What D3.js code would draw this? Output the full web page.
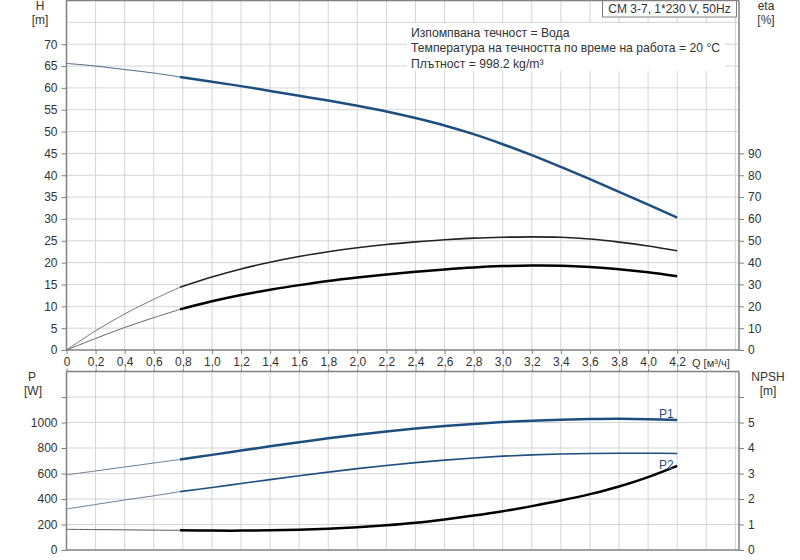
<!DOCTYPE html>
<html>
<head>
<meta charset="utf-8">
<script src="https://cdn.jsdelivr.net/npm/d3@7"></script>
<style>
  body { margin: 0; background: #fff; }
  text { font-family: "Liberation Sans", Arial, sans-serif; fill: #333; }
</style>
</head>
<body>
<div id="chart"></div>
<script>
// flow points (m3/h); 0.78 is where the operating range starts
const q = [0, 0.2, 0.4, 0.6, 0.78, 1.0, 1.2, 1.4, 1.6, 1.8, 2.0, 2.2, 2.4, 2.6, 2.8, 3.0, 3.2, 3.4, 3.6, 3.8, 4.0, 4.2];
const qStart = 0.78;

const head = [65.6, 65.0, 64.2, 63.4, 62.5, 61.4, 60.4, 59.3, 58.2, 57.1, 55.9, 54.6, 53.1, 51.4, 49.4, 47.1, 44.6, 41.9, 39.1, 36.2, 33.3, 30.3];
const etaPump = [0, 8.8, 16.5, 23.2, 28.7, 33.4, 37.1, 40.2, 42.8, 45.0, 46.8, 48.3, 49.5, 50.5, 51.2, 51.6, 51.8, 51.6, 50.8, 49.4, 47.6, 45.4];
const etaTotal = [0, 5.3, 10.3, 14.8, 18.6, 22.3, 25.2, 27.6, 29.7, 31.6, 33.2, 34.6, 35.8, 36.9, 37.8, 38.4, 38.7, 38.6, 38.0, 37.0, 35.6, 33.8];
const p1 = [589, 620, 651, 682, 710, 746, 780, 813, 845, 876, 904, 930, 953, 972, 989, 1003, 1014, 1022, 1027, 1029, 1026, 1019];
const p2 = [322, 357, 392, 425, 458, 490, 521, 552, 582, 611, 638, 663, 685, 705, 722, 736, 746, 753, 757, 759, 759, 757];
const npsh = [0.81, 0.80, 0.79, 0.78, 0.77, 0.76, 0.76, 0.77, 0.79, 0.83, 0.89, 0.97, 1.07, 1.20, 1.35, 1.52, 1.72, 1.94, 2.19, 2.49, 2.86, 3.30];

const qTicks = d3.range(0, 4.21, 0.2);
const hTicks = d3.range(0, 71, 5);
const etaTicks = d3.range(0, 91, 10);
const pTicks = [0, 200, 400, 600, 800, 1000, 1200];
const npshTicks = [0, 1, 2, 3, 4, 5, 6];

const title = "CM 3-7, 1*230 V, 50Hz";
const notes = ["Изпомпвана течност = Вода", "Температура на течността по време на работа = 20 °C", "Плътност = 998.2 kg/m³"];

const width = 800, height = 560;
const left = 66.5, right = 739;

const svg = d3.select("#chart").append("svg")
    .attr("width", width)
    .attr("height", height);

const x = d3.scaleLinear().domain([0, 4.625]).range([left, right]);
const yH = d3.scaleLinear().domain([0, 80]).range([350, 0.5]);
const yEta = d3.scaleLinear().domain([0, 160]).range([350, 0.5]);
const yP = d3.scaleLinear().domain([0, 1400]).range([550, 371.5]);
const yN = d3.scaleLinear().domain([0, 7]).range([550, 371.5]);

const gridColor = "#d4d4d4";
const axisColor = "#808080";
const blue = "#1d4e80";

function grid(g, y, yVals, top, bottom) {
    g.selectAll("line.v").data(d3.range(0.2, 4.61, 0.2)).join("line")
        .attr("x1", d => x(d)).attr("x2", d => x(d))
        .attr("y1", top).attr("y2", bottom)
        .attr("stroke", gridColor).attr("stroke-width", 1);
    g.selectAll("line.h").data(yVals).join("line")
        .attr("x1", left).attr("x2", right)
        .attr("y1", d => y(d)).attr("y2", d => y(d))
        .attr("stroke", gridColor).attr("stroke-width", 1);
}

// grids
grid(svg.append("g"), yH, d3.range(5, 80, 5), 0, 350);
grid(svg.append("g"), yP, d3.range(200, 1400, 200), 371.5, 550);

// note block with white background
svg.append("rect")
    .attr("x", 407).attr("y", 23).attr("width", 318).attr("height", 48)
    .attr("fill", "#fff");
svg.append("g").selectAll("text").data(notes).join("text")
    .attr("x", 411)
    .attr("y", (d, i) => 36.5 + i * 15.5)
    .attr("font-size", 12.2)
    .text(d => d);

// title box
svg.append("rect")
    .attr("x", 602.5).attr("y", 0.5).attr("width", 134).attr("height", 16.5)
    .attr("fill", "#fff").attr("stroke", "#808080");
svg.append("text")
    .attr("x", 669.5).attr("y", 13)
    .attr("text-anchor", "middle")
    .attr("font-size", 12)
    .text(title);

// frames
function frame(top, bottom) {
    const edges = [[left, top, right, top], [left, bottom, right, bottom],
                   [left, top, left, bottom], [right, top, right, bottom]];
    svg.append("g").selectAll("line").data(edges).join("line")
        .attr("x1", d => d[0]).attr("y1", d => d[1])
        .attr("x2", d => d[2]).attr("y2", d => d[3])
        .attr("stroke", axisColor).attr("stroke-width", 1.5);
}
frame(0.5, 350);
frame(371.5, 550);

function styleAxis(g) {
    g.select(".domain").remove();
    g.selectAll(".tick line").attr("stroke", axisColor);
    g.selectAll(".tick text").attr("fill", "#333").attr("font-size", 12)
        .attr("font-family", "Liberation Sans, Arial, sans-serif");
}

// axes
svg.append("g").attr("transform", `translate(${left},0)`)
    .call(d3.axisLeft(yH).tickValues(hTicks).tickSize(5).tickPadding(4))
    .call(styleAxis);
svg.append("g").attr("transform", `translate(${right},0)`)
    .call(d3.axisRight(yEta).tickValues(etaTicks).tickSize(5).tickPadding(4))
    .call(styleAxis);
svg.append("g").attr("transform", `translate(0,350)`)
    .call(d3.axisBottom(x).tickValues(qTicks).tickSize(4).tickPadding(3)
        .tickFormat(d => d === 0 ? "0" : d3.format(".1f")(d).replace(".", ",")))
    .call(styleAxis);
svg.append("g").attr("transform", `translate(0,371.5)`)
    .call(d3.axisTop(x).tickValues(qTicks).tickSize(3).tickFormat(""))
    .call(styleAxis);
svg.append("g").attr("transform", `translate(${left},0)`)
    .call(d3.axisLeft(yP).tickValues(pTicks).tickSize(5).tickPadding(4)
        .tickFormat(d => d > 1000 ? "" : d))
    .call(styleAxis);
svg.append("g").attr("transform", `translate(${right},0)`)
    .call(d3.axisRight(yN).tickValues(npshTicks).tickSize(5).tickPadding(4)
        .tickFormat(d => d > 5 ? "" : d))
    .call(styleAxis);

// axis titles
const titles = [
    ["H", 40, 10], ["[m]", 40, 24],
    ["eta", 766, 10], ["[%]", 766, 24],
    ["P", 32, 381], ["[W]", 33, 395],
    ["NPSH", 768, 381], ["[m]", 768, 395]
];
svg.append("g").selectAll("text").data(titles).join("text")
    .attr("x", d => d[1]).attr("y", d => d[2])
    .attr("text-anchor", "middle")
    .attr("font-size", 12)
    .text(d => d[0]);
svg.append("text")
    .attr("x", 692).attr("y", 367)
    .attr("font-size", 11)
    .text("Q [м³/ч]");

// curves: thin before qStart, thick in operating range
function curve(vals, y, color, thick, thinColor) {
    const pts = q.map((d, i) => [d, vals[i]]);
    const line = d3.line().x(d => x(d[0])).y(d => y(d[1])).curve(d3.curveCatmullRom.alpha(0.5));
    svg.append("path").datum(pts.filter(d => d[0] <= qStart))
        .attr("fill", "none").attr("stroke", thinColor).attr("stroke-width", 1)
        .attr("d", line);
    svg.append("path").datum(pts.filter(d => d[0] >= qStart))
        .attr("fill", "none").attr("stroke", color).attr("stroke-width", thick)
        .attr("d", line);
}

curve(head, yH, blue, 2.5, "#4a6a8a");
curve(etaPump, yEta, "#222", 1.6, "#777");
curve(etaTotal, yEta, "#000", 2.5, "#666");
curve(p1, yP, blue, 2.5, "#6a7f95");
curve(p2, yP, blue, 1.6, "#6a7f95");
curve(npsh, yN, "#000", 2.5, "#555");

// curve labels
svg.append("text").attr("x", 659).attr("y", 418).attr("font-size", 12)
    .style("fill", "#2a4f7a").text("P1");
svg.append("text").attr("x", 659).attr("y", 469).attr("font-size", 12)
    .style("fill", "#2a4f7a").text("P2");
</script>
</body>
</html>
